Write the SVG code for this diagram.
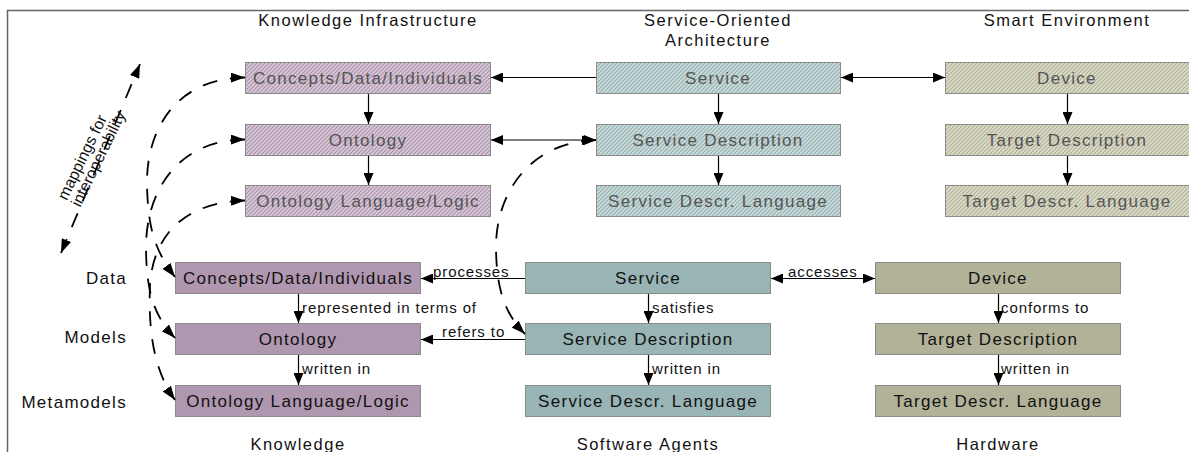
<svg xmlns="http://www.w3.org/2000/svg" width="1189" height="452" viewBox="0 0 1189 452">
<defs>
<pattern id="hK" patternUnits="userSpaceOnUse" width="4" height="4">
<rect width="4" height="4" fill="#d9c9d9"/>
<path d="M-1,1 L1,-1 M0,4 L4,0 M3,5 L5,3" stroke="#ab92ab" stroke-width="1.1"/>
</pattern>
<pattern id="hS" patternUnits="userSpaceOnUse" width="4" height="4">
<rect width="4" height="4" fill="#cddcdc"/>
<path d="M-1,1 L1,-1 M0,4 L4,0 M3,5 L5,3" stroke="#93b0b0" stroke-width="1.1"/>
</pattern>
<pattern id="hD" patternUnits="userSpaceOnUse" width="4" height="4">
<rect width="4" height="4" fill="#dcdccc"/>
<path d="M-1,1 L1,-1 M0,4 L4,0 M3,5 L5,3" stroke="#b0b094" stroke-width="1.1"/>
</pattern>
<marker id="ah" markerUnits="userSpaceOnUse" markerWidth="12" markerHeight="10" viewBox="0 0 12 10" refX="12" refY="5" orient="auto-start-reverse">
<path d="M0,0 L12,5 L0,10 z" fill="#000" stroke="none"/>
</marker>
<marker id="ahd" markerUnits="userSpaceOnUse" markerWidth="14" markerHeight="10" viewBox="0 0 14 10" refX="14" refY="5" orient="auto-start-reverse">
<path d="M0,0 L14,5 L0,10 z" fill="#000" stroke="none"/>
</marker>
</defs>
<style>
.box{stroke:#8a8a8a;stroke-width:1}
.bk{fill:#b097b0}.bs{fill:#98b4b4}.bd{fill:#b2b298}
.tk{fill:url(#hK)}.ts{fill:url(#hS)}.td{fill:url(#hD)}
text{font-family:"Liberation Sans",Arial,sans-serif}
.bt{font-size:17px;letter-spacing:1.3px;text-anchor:middle;fill:#111}
.tt{font-size:17px;letter-spacing:1.3px;text-anchor:middle;fill:#555}
.hd{font-size:16.5px;letter-spacing:1.5px;text-anchor:middle;fill:#111}
.lb{font-size:15px;letter-spacing:0.9px;fill:#111}
.mp{font-size:16px;letter-spacing:0px;fill:#111}
.lv{font-size:17px;letter-spacing:1.3px;text-anchor:end;fill:#111}
.cn{stroke:#000;stroke-width:1.2;fill:none}
.ds{stroke:#000;stroke-width:1.8;fill:none;stroke-dasharray:15 13}
</style>
<path d="M7.5,452 V10.5 H1189" fill="none" stroke="#666" stroke-width="1.5"/>

<g id="headers">
<text class="hd" x="368" y="26">Knowledge Infrastructure</text>
<text class="hd" x="718" y="26">Service-Oriented</text>
<text class="hd" x="718" y="46">Architecture</text>
<text class="hd" x="1067" y="26">Smart Environment</text>
<text class="hd" x="298" y="450">Knowledge</text>
<text class="hd" x="648" y="450">Software Agents</text>
<text class="hd" x="998" y="450">Hardware</text>
</g>
<g id="levels">
<text class="lv" x="127" y="284">Data</text>
<text class="lv" x="127" y="343">Models</text>
<text class="lv" x="127" y="408">Metamodels</text>
</g>

<g id="ki-concepts"><rect class="box tk" x="245.5" y="62.5" width="245" height="31"/><text class="tt" x="368" y="83.5">Concepts/Data/Individuals</text></g>
<g id="ki-ontology"><rect class="box tk" x="245.5" y="124.5" width="245" height="31"/><text class="tt" x="368" y="145.5">Ontology</text></g>
<g id="ki-language"><rect class="box tk" x="245.5" y="185.5" width="245" height="31"/><text class="tt" x="368" y="206.5">Ontology Language/Logic</text></g>
<g id="soa-service"><rect class="box ts" x="596.5" y="62.5" width="244" height="31"/><text class="tt" x="718" y="83.5">Service</text></g>
<g id="soa-description"><rect class="box ts" x="596.5" y="124.5" width="244" height="31"/><text class="tt" x="718" y="145.5">Service Description</text></g>
<g id="soa-language"><rect class="box ts" x="596.5" y="185.5" width="244" height="31"/><text class="tt" x="718" y="206.5">Service Descr. Language</text></g>
<g id="se-device"><rect class="box td" x="945.5" y="62.5" width="245" height="31"/><text class="tt" x="1067" y="83.5">Device</text></g>
<g id="se-description"><rect class="box td" x="945.5" y="124.5" width="245" height="31"/><text class="tt" x="1067" y="145.5">Target Description</text></g>
<g id="se-language"><rect class="box td" x="945.5" y="185.5" width="245" height="31"/><text class="tt" x="1067" y="206.5">Target Descr. Language</text></g>

<g id="k-concepts"><rect class="box bk" x="175.5" y="262.5" width="245" height="31"/><text class="bt" x="298" y="284">Concepts/Data/Individuals</text></g>
<g id="k-ontology"><rect class="box bk" x="175.5" y="323.5" width="245" height="31"/><text class="bt" x="298" y="345">Ontology</text></g>
<g id="k-language"><rect class="box bk" x="175.5" y="385.5" width="245" height="31"/><text class="bt" x="298" y="407">Ontology Language/Logic</text></g>
<g id="sw-service"><rect class="box bs" x="525.5" y="262.5" width="245" height="31"/><text class="bt" x="648" y="284">Service</text></g>
<g id="sw-description"><rect class="box bs" x="525.5" y="323.5" width="245" height="31"/><text class="bt" x="648" y="345">Service Description</text></g>
<g id="sw-language"><rect class="box bs" x="525.5" y="385.5" width="245" height="31"/><text class="bt" x="648" y="407">Service Descr. Language</text></g>
<g id="hw-device"><rect class="box bd" x="875.5" y="262.5" width="245" height="31"/><text class="bt" x="998" y="284">Device</text></g>
<g id="hw-description"><rect class="box bd" x="875.5" y="323.5" width="245" height="31"/><text class="bt" x="998" y="345">Target Description</text></g>
<g id="hw-language"><rect class="box bd" x="875.5" y="385.5" width="245" height="31"/><text class="bt" x="998" y="407">Target Descr. Language</text></g>

<g id="connectors">
<path class="cn" d="M596,77.5 H491" marker-end="url(#ah)"/>
<path class="cn" d="M841,77.5 H945" marker-start="url(#ah)" marker-end="url(#ah)"/>
<path class="cn" d="M491,140 H596" marker-start="url(#ah)" marker-end="url(#ah)"/>
<path class="cn" d="M368.5,94 V124" marker-end="url(#ah)"/>
<path class="cn" d="M368.5,156 V185" marker-end="url(#ah)"/>
<path class="cn" d="M718.5,94 V124" marker-end="url(#ah)"/>
<path class="cn" d="M718.5,156 V185" marker-end="url(#ah)"/>
<path class="cn" d="M1067.5,94 V124" marker-end="url(#ah)"/>
<path class="cn" d="M1067.5,156 V185" marker-end="url(#ah)"/>

<path class="cn" d="M525,278.5 H421" marker-end="url(#ah)"/>
<path class="cn" d="M525,339.5 H421" marker-end="url(#ah)"/>
<path class="cn" d="M771,278.5 H875" marker-start="url(#ah)" marker-end="url(#ah)"/>
<path class="cn" d="M298.5,294 V323" marker-end="url(#ah)"/>
<path class="cn" d="M298.5,355 V385" marker-end="url(#ah)"/>
<path class="cn" d="M648.5,294 V323" marker-end="url(#ah)"/>
<path class="cn" d="M648.5,355 V385" marker-end="url(#ah)"/>
<path class="cn" d="M998.5,294 V323" marker-end="url(#ah)"/>
<path class="cn" d="M998.5,355 V385" marker-end="url(#ah)"/>

<text class="lb" x="433" y="277">processes</text>
<text class="lb" x="442" y="337">refers to</text>
<text class="lb" x="788" y="277">accesses</text>
<text class="lb" x="302" y="313">represented in terms of</text>
<text class="lb" x="302" y="374">written in</text>
<text class="lb" x="652" y="313">satisfies</text>
<text class="lb" x="652" y="374">written in</text>
<text class="lb" x="1001" y="313">conforms to</text>
<text class="lb" x="1001" y="374">written in</text>

<path class="ds" d="M245,77.5 C180,78 146,125 147,185 C148,225 153,248 175,277" marker-start="url(#ahd)" marker-end="url(#ahd)"/>
<path class="ds" d="M245,139.5 C178,140 147,190 146,245 C146,290 153,315 175,338" marker-start="url(#ahd)" marker-end="url(#ahd)"/>
<path class="ds" d="M245,200.5 C185,202 153,235 150,285 C148,335 155,372 175,400" marker-start="url(#ahd)" marker-end="url(#ahd)"/>
<path class="ds" d="M596,140 C532,142 497,190 496,245 C496,285 503,312 525,334" marker-start="url(#ahd)" marker-end="url(#ahd)"/>
<path class="ds" d="M61,253 L140,64" marker-start="url(#ahd)" marker-end="url(#ahd)"/>
<g transform="translate(98.5,159) rotate(-64)">
<text class="mp" x="-52" y="-10">mappings for</text>
<text class="mp" x="-52" y="5">interoperability</text>
</g>
</g>
</svg>
